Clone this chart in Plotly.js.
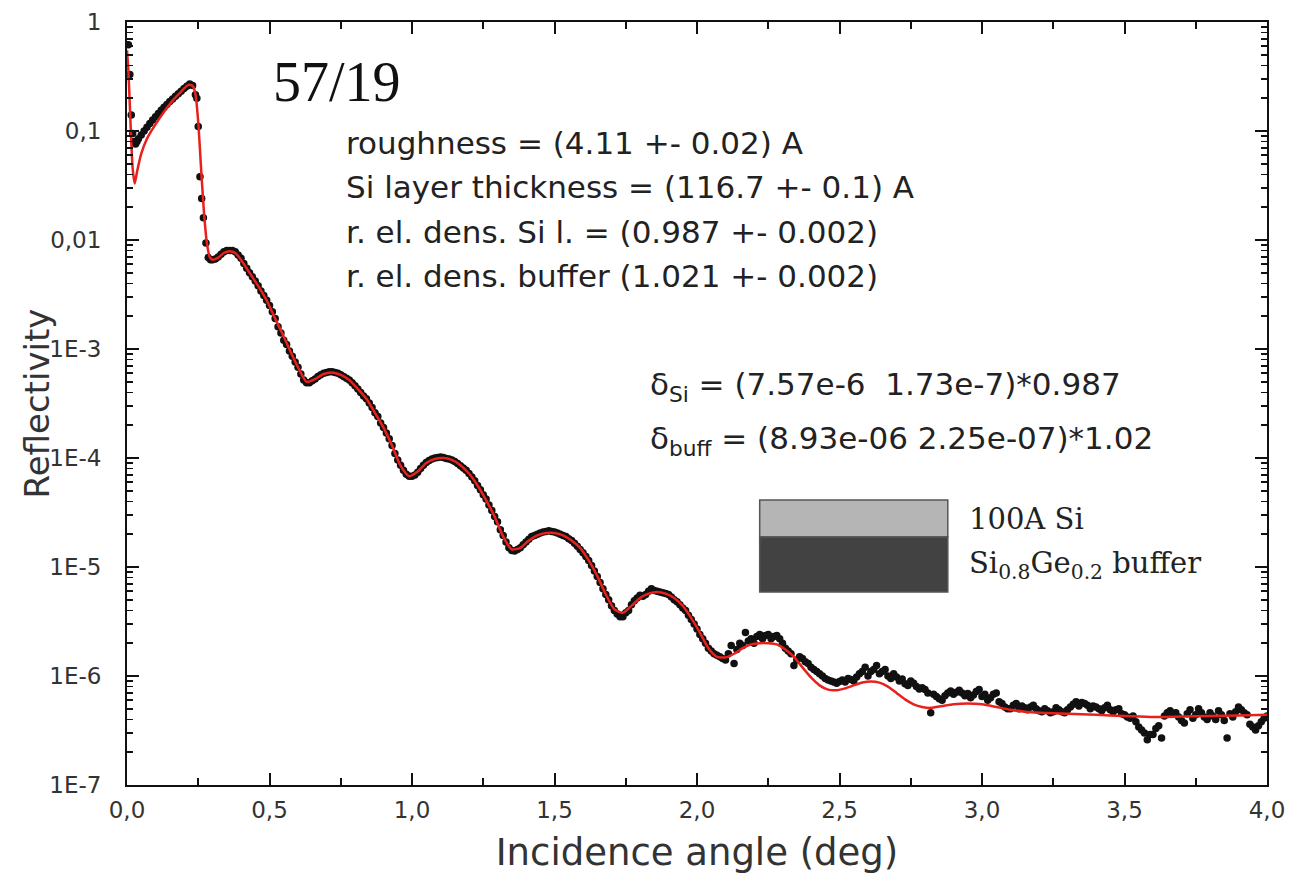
<!DOCTYPE html>
<html>
<head>
<meta charset="utf-8">
<script src="https://cdn.plot.ly/plotly-3.0.1.min.js"></script>
<style>html,body{margin:0;padding:0;background:#fff;}#chart{width:1294px;height:888px;}</style>
</head>
<body>
<div id="chart"></div>
<script>
// Measured data (black dots)
const angleData = [0.005,0.010,0.015,0.020,0.025,0.030,0.035,0.04,0.05,0.06,0.07,0.08,0.09,0.10,0.11,0.12,0.13,0.14,0.15,0.16,0.17,0.18,0.19,0.20,0.21,0.22,0.23,0.24,0.245,0.25,0.256,0.262,0.268,0.277,0.285,0.293,
0.30,0.31,0.32,0.33,0.34,0.35,0.36,0.37,0.38,0.39,0.40,0.41,0.42,0.43,0.44,0.45,0.46,0.47,0.48,0.49,0.50,0.51,0.52,0.53,0.54,0.55,0.56,0.57,0.58,0.59,0.60,0.61,0.62,0.63,0.64,0.65,0.66,0.67,0.68,0.69,0.70,0.71,0.72,0.73,0.74,0.75,0.76,0.77,0.78,0.79,0.80,0.81,0.82,0.83,0.84,0.85,0.86,0.87,0.88,0.89,0.90,0.91,0.92,0.93,0.94,0.95,0.96,0.97,0.98,0.99,
1.00,1.01,1.02,1.03,1.04,1.05,1.06,1.07,1.08,1.09,1.10,1.11,1.12,1.13,1.14,1.15,1.16,1.17,1.18,1.19,1.20,1.21,1.22,1.23,1.24,1.25,1.26,1.27,1.28,1.29,1.30,1.31,1.32,1.33,1.34,1.35,1.36,1.37,1.38,1.39,1.40,1.41,1.42,1.43,1.44,1.45,1.46,1.47,1.48,1.49,1.50,1.51,1.52,1.53,1.54,1.55,1.56,1.57,1.58,1.59,1.60,1.61,1.62,1.63,1.64,1.65,1.66,1.67,1.68,1.69,1.70,1.71,1.72,1.73,1.74,1.75,1.76,1.77,1.78,1.79,1.80,1.81,1.82,1.83,1.84,1.85,1.86,1.87,1.88,1.89,1.90,1.91,1.92,1.93,1.94,1.95,1.96,1.97,1.98,1.99,
2.00,2.01,2.02,2.03,2.04,2.05,2.06,2.07,2.08,2.09,2.10,2.11,2.12,2.13,2.14,2.15,2.16,2.17,2.18,2.19,2.20,2.21,2.22,2.23,2.24,2.25,2.26,2.27,2.28,2.29,2.30,2.31,2.32,2.33,2.34,2.35,2.36,2.37,2.38,2.39,2.40,2.41,2.42,2.43,2.44,2.45,2.46,2.47,2.48,2.49,2.50,2.51,2.52,2.53,2.54,2.55,2.56,2.57,2.58,2.59,2.60,2.61,2.62,2.63,2.64,2.65,2.66,2.67,2.68,2.69,2.70,2.71,2.72,2.73,2.74,2.75,2.76,2.77,2.78,2.79,2.80,2.81,2.82,2.83,2.84,2.85,2.86,2.87,2.88,2.89,2.90,2.91,2.92,2.93,2.94,2.95,2.96,2.97,2.98,2.99,
3.00,3.01,3.02,3.03,3.04,3.05,3.06,3.07,3.08,3.09,3.10,3.11,3.12,3.13,3.14,3.15,3.16,3.17,3.18,3.19,3.20,3.21,3.22,3.23,3.24,3.25,3.26,3.27,3.28,3.29,3.30,3.31,3.32,3.33,3.34,3.35,3.36,3.37,3.38,3.39,3.40,3.41,3.42,3.43,3.44,3.45,3.46,3.47,3.48,3.49,3.50,3.51,3.52,3.53,3.54,3.55,3.56,3.57,3.58,3.59,3.60,3.61,3.62,3.63,3.64,3.65,3.66,3.67,3.68,3.69,3.70,3.71,3.72,3.73,3.74,3.75,3.76,3.77,3.78,3.79,3.80,3.81,3.82,3.83,3.84,3.85,3.86,3.87,3.88,3.89,3.90,3.91,3.92,3.93,3.94,3.95,3.96,3.97,3.98,3.99,4.00];
const reflData = [0.62,0.33,0.14,0.095,0.08,0.076,0.08,0.085,0.092,0.10,0.108,0.117,0.126,0.135,0.145,0.155,0.165,0.175,0.186,0.197,0.208,0.22,0.232,0.245,0.258,0.27,0.262,0.215,0.20,0.11,0.038,0.024,0.016,0.0094,0.0069,0.0066,
0.0066,0.0067,0.0070,0.0074,0.0078,0.0080,0.0080,0.0080,0.0078,0.0073,0.0068,0.0061,0.0055,0.0050,0.0046,0.0042,0.0038,0.0034,0.0031,0.0028,0.0025,0.0022,0.0019,0.0016,0.0014,0.0012,0.0011,9.6e-4,8.6e-4,7.6e-4,6.8e-4,5.9e-4,5.2e-4,4.9e-4,4.9e-4,5.1e-4,5.3e-4,5.6e-4,5.8e-4,6.0e-4,6.1e-4,6.2e-4,6.2e-4,6.1e-4,6.0e-4,5.8e-4,5.6e-4,5.4e-4,5.2e-4,4.9e-4,4.6e-4,4.3e-4,4.0e-4,3.7e-4,3.5e-4,3.2e-4,2.9e-4,2.6e-4,2.4e-4,2.1e-4,1.9e-4,1.7e-4,1.5e-4,1.3e-4,1.1e-4,9.6e-5,8.6e-5,7.7e-5,7.1e-5,6.8e-5,
6.8e-5,7.0e-5,7.4e-5,8.0e-5,8.6e-5,9.1e-5,9.5e-5,9.8e-5,1.0e-4,1.01e-4,1.02e-4,1.01e-4,9.9e-5,9.8e-5,9.6e-5,9.3e-5,8.9e-5,8.5e-5,8.1e-5,7.7e-5,7.2e-5,6.7e-5,6.2e-5,5.6e-5,5.1e-5,4.6e-5,4.2e-5,3.7e-5,3.3e-5,2.9e-5,2.6e-5,2.2e-5,1.95e-5,1.7e-5,1.5e-5,1.42e-5,1.4e-5,1.45e-5,1.5e-5,1.6e-5,1.7e-5,1.8e-5,1.9e-5,1.95e-5,2.0e-5,2.05e-5,2.1e-5,2.12e-5,2.15e-5,2.12e-5,2.1e-5,2.05e-5,2.0e-5,1.95e-5,1.9e-5,1.82e-5,1.75e-5,1.65e-5,1.55e-5,1.45e-5,1.35e-5,1.25e-5,1.15e-5,1.03e-5,9.2e-6,8.2e-6,7.2e-6,6.3e-6,5.6e-6,5.0e-6,4.4e-6,4.0e-6,3.7e-6,3.5e-6,3.5e-6,3.8e-6,4.0e-6,4.5e-6,4.9e-6,5.2e-6,5.5e-6,5.4e-6,5.6e-6,6.0e-6,6.3e-6,6.1e-6,6.0e-6,5.9e-6,5.8e-6,5.7e-6,5.6e-6,5.3e-6,5.0e-6,4.8e-6,4.5e-6,4.2e-6,4.0e-6,3.6e-6,3.3e-6,3.0e-6,
2.7e-6,2.4e-6,2.2e-6,2.0e-6,1.8e-6,1.7e-6,1.6e-6,1.55e-6,1.5e-6,1.45e-6,1.4e-6,1.6e-6,1.9e-6,1.3e-6,1.75e-6,2.0e-6,1.9e-6,2.5e-6,2.1e-6,2.2e-6,2.0e-6,2.3e-6,2.4e-6,2.2e-6,2.35e-6,2.4e-6,2.2e-6,2.3e-6,2.35e-6,2.2e-6,2.0e-6,1.8e-6,1.7e-6,1.6e-6,1.25e-6,1.4e-6,1.5e-6,1.45e-6,1.35e-6,1.3e-6,1.2e-6,1.15e-6,1.1e-6,1.05e-6,1.0e-6,9.5e-7,9.2e-7,9.0e-7,8.8e-7,8.6e-7,8.9e-7,9.2e-7,8.8e-7,9.5e-7,9.3e-7,9.0e-7,9.8e-7,1.05e-6,1.1e-6,1.2e-6,1.0e-6,1.1e-6,1.15e-6,1.25e-6,1.05e-6,1.1e-6,1.15e-6,1.0e-6,9.5e-7,1.05e-6,9.8e-7,9.0e-7,9.4e-7,8.5e-7,8.2e-7,9.0e-7,8.6e-7,8.0e-7,7.6e-7,7.8e-7,7.5e-7,7.0e-7,4.6e-7,6.8e-7,6.5e-7,6.2e-7,6.0e-7,6.6e-7,7.0e-7,7.3e-7,6.8e-7,7.1e-7,7.4e-7,7.0e-7,6.6e-7,6.9e-7,6.3e-7,6.7e-7,7.2e-7,7.5e-7,
6.5e-7,6.8e-7,6.0e-7,6.3e-7,6.8e-7,7.0e-7,5.8e-7,5.6e-7,5.2e-7,5.0e-7,5.0e-7,5.4e-7,5.6e-7,5.0e-7,5.3e-7,5.1e-7,4.9e-7,5.2e-7,5.4e-7,5.0e-7,4.8e-7,4.7e-7,5.0e-7,4.8e-7,4.6e-7,4.7e-7,5.1e-7,4.9e-7,4.7e-7,4.6e-7,4.9e-7,5.2e-7,5.5e-7,5.8e-7,5.3e-7,5.7e-7,5.6e-7,5.4e-7,5.0e-7,5.3e-7,5.2e-7,5.0e-7,4.8e-7,5.1e-7,5.4e-7,4.9e-7,4.7e-7,4.9e-7,5.0e-7,4.5e-7,4.4e-7,4.2e-7,4.1e-7,4.3e-7,3.8e-7,3.4e-7,3.2e-7,3.0e-7,2.6e-7,2.9e-7,2.9e-7,3.3e-7,3.5e-7,2.7e-7,4.3e-7,4.6e-7,4.8e-7,4.5e-7,4.6e-7,4.2e-7,3.9e-7,3.7e-7,4.5e-7,4.9e-7,4.1e-7,4.4e-7,5.0e-7,4.6e-7,4.2e-7,4.0e-7,4.6e-7,4.3e-7,4.0e-7,4.8e-7,4.4e-7,3.9e-7,2.7e-7,4.5e-7,4.2e-7,4.7e-7,5.2e-7,4.9e-7,4.6e-7,4.4e-7,3.6e-7,3.4e-7,3.2e-7,3.5e-7,3.8e-7,4.1e-7,4.3e-7];

// Fitted model (red line)
const angleFit = [0.000,0.005,0.010,0.015,0.020,0.027,0.035,0.05,0.07,0.10,0.13,0.16,0.19,0.215,0.23,0.24,0.25,0.26,0.27,0.28,0.29,0.30,0.32,0.34,0.36,0.38,0.40,0.43,0.46,0.49,0.52,0.55,0.58,0.60,0.63,0.66,0.69,0.72,0.75,0.78,0.81,0.84,0.87,0.90,0.93,0.96,0.99,1.02,1.05,1.08,1.11,1.14,1.17,1.20,1.23,1.26,1.29,1.32,1.35,1.38,1.41,1.44,1.47,1.50,1.53,1.56,1.59,1.62,1.65,1.68,1.71,1.74,1.77,1.80,1.83,1.86,1.89,1.92,1.95,1.98,2.01,2.04,2.07,2.10,2.13,2.16,2.19,2.22,2.25,2.28,2.31,2.34,2.37,2.40,2.43,2.46,2.49,2.52,2.55,2.58,2.61,2.64,2.67,2.70,2.73,2.76,2.79,2.82,2.86,2.90,2.95,3.00,3.05,3.10,3.15,3.20,3.30,3.40,3.50,3.60,3.70,3.80,3.90,4.00];
const reflFit = [0.55,0.35,0.17,0.08,0.045,0.033,0.042,0.062,0.085,0.115,0.15,0.19,0.23,0.265,0.26,0.22,0.12,0.045,0.018,0.0095,0.007,0.0066,0.0069,0.0076,0.0079,0.0076,0.0066,0.005,0.0038,0.0028,0.0019,0.0013,8.7e-4,6.8e-4,5.0e-4,5.3e-4,5.9e-4,6.1e-4,5.8e-4,5.2e-4,4.3e-4,3.5e-4,2.6e-4,1.9e-4,1.3e-4,8.5e-5,6.8e-5,7.5e-5,9.0e-5,9.8e-5,1.0e-4,9.6e-5,8.6e-5,7.2e-5,5.6e-5,4.1e-5,2.9e-5,1.9e-5,1.45e-5,1.5e-5,1.75e-5,1.95e-5,2.05e-5,2.05e-5,1.95e-5,1.75e-5,1.5e-5,1.15e-5,8.3e-6,5.6e-6,4.1e-6,3.8e-6,4.4e-6,5.2e-6,5.7e-6,5.9e-6,5.7e-6,5.2e-6,4.4e-6,3.4e-6,2.5e-6,1.8e-6,1.5e-6,1.48e-6,1.6e-6,1.8e-6,1.95e-6,2.0e-6,2.0e-6,1.95e-6,1.75e-6,1.5e-6,1.2e-6,9.7e-7,8.2e-7,7.5e-7,7.4e-7,7.7e-7,8.2e-7,8.7e-7,8.9e-7,8.7e-7,8.0e-7,7.0e-7,6.1e-7,5.5e-7,5.2e-7,5.1e-7,5.3e-7,5.5e-7,5.6e-7,5.5e-7,5.2e-7,4.9e-7,4.7e-7,4.6e-7,4.5e-7,4.4e-7,4.3e-7,4.2e-7,4.25e-7,4.3e-7,4.35e-7,4.4e-7];

// Tick labels
const xTickVals = [0,0.5,1,1.5,2,2.5,3,3.5,4];
const xTickText = ["0,0","0,5","1,0","1,5","2,0","2,5","3,0","3,5","4,0"];
const yTickVals = [1,0.1,0.01,1e-3,1e-4,1e-5,1e-6,1e-7];
const yTickText = ["1","0,1","0,01","1E-3","1E-4","1E-5","1E-6","1E-7"];

const xMinor = [];
for (let i = 0; i < 8; i++) xMinor.push(0.25 + 0.5 * i);
const yMinor = [];
for (let e = -7; e < 0; e++) for (let m = 2; m <= 9; m++) yMinor.push(m * Math.pow(10, e));

const traces = [
  {x: angleData, y: reflData, type: 'scatter', mode: 'markers',
   marker: {color: '#111', size: 7.5}, name: 'data'},
  {x: angleFit, y: reflFit, type: 'scatter', mode: 'lines',
   line: {color: '#e8211c', width: 2.5, shape: 'spline', smoothing: 0.6}, name: 'fit'}
];

const SANS = 'DejaVu Sans, Arial, sans-serif';
const SERIF = 'DejaVu Serif, Times New Roman, serif';
const tickFont = {family: SANS, size: 23, color: '#333'};
const txtFont = {family: SANS, size: 31, color: '#222'};
const serif = {family: SERIF, size: 29, color: '#222'};

const layout = {
  width: 1294, height: 888,
  margin: {l: 127, r: 27, t: 22, b: 103},
  paper_bgcolor: '#fff', plot_bgcolor: '#fff',
  showlegend: false,
  xaxis: {
    range: [0, 4], tickmode: 'array', tickvals: xTickVals, ticktext: xTickText,
    ticks: 'inside', ticklen: 12, tickwidth: 2, tickcolor: '#111',
    showline: true, linecolor: '#111', linewidth: 2, mirror: 'ticks',
    showgrid: false, zeroline: false, tickfont: tickFont, ticklabelstandoff: 3,
    minor: {tickvals: xMinor, ticks: 'inside', ticklen: 7, tickwidth: 2, tickcolor: '#111', showgrid: false},
    title: {text: 'Incidence angle (deg)', font: {family: SANS, size: 37, color: '#333'}, standoff: 18}
  },
  yaxis: {
    type: 'log', range: [-7, 0], tickmode: 'array', tickvals: yTickVals, ticktext: yTickText,
    ticks: 'inside', ticklen: 12, tickwidth: 2, tickcolor: '#111',
    showline: true, linecolor: '#111', linewidth: 2, mirror: 'ticks',
    showgrid: false, zeroline: false, tickfont: tickFont, ticklabelstandoff: 19,
    minor: {tickvals: yMinor, ticks: 'inside', ticklen: 6, tickwidth: 1.5, tickcolor: '#111', showgrid: false}
  },
  shapes: [
    {type: 'rect', xref: 'paper', yref: 'paper', x0: 0.555, x1: 0.720, y0: 0.325, y1: 0.3735,
     fillcolor: '#b5b5b5', line: {color: '#555', width: 1.5}},
    {type: 'rect', xref: 'paper', yref: 'paper', x0: 0.555, x1: 0.720, y0: 0.253, y1: 0.325,
     fillcolor: '#424242', line: {color: '#555', width: 1.5}}
  ],
  annotations: [
    {xref: 'paper', yref: 'paper', x: -0.079, y: 0.50, xanchor: 'center', yanchor: 'middle', showarrow: false,
     textangle: -90, text: 'Reflectivity', font: {family: SANS, size: 34, color: '#333'}},
    {xref: 'paper', yref: 'paper', x: 0.126, y: 0.922, xanchor: 'left', yanchor: 'middle', showarrow: false,
     text: '57/19', font: {family: 'Liberation Serif, Times New Roman, serif', size: 56, color: '#111'}},
    {xref: 'paper', yref: 'paper', x: 0.190, y: 0.841, xanchor: 'left', yanchor: 'middle', showarrow: false,
     text: 'roughness = (4.11 +- 0.02) A', font: txtFont},
    {xref: 'paper', yref: 'paper', x: 0.190, y: 0.784, xanchor: 'left', yanchor: 'middle', showarrow: false,
     text: 'Si layer thickness = (116.7 +- 0.1) A', font: txtFont},
    {xref: 'paper', yref: 'paper', x: 0.190, y: 0.725, xanchor: 'left', yanchor: 'middle', showarrow: false,
     text: 'r. el. dens. Si l. = (0.987 +- 0.002)', font: txtFont},
    {xref: 'paper', yref: 'paper', x: 0.190, y: 0.667, xanchor: 'left', yanchor: 'middle', showarrow: false,
     text: 'r. el. dens. buffer (1.021 +- 0.002)', font: txtFont},
    {xref: 'paper', yref: 'paper', x: 0.457, y: 0.522, xanchor: 'left', yanchor: 'middle', showarrow: false,
     text: 'δ<sub>Si</sub> = (7.57e-6  1.73e-7)*0.987', font: txtFont},
    {xref: 'paper', yref: 'paper', x: 0.457, y: 0.452, xanchor: 'left', yanchor: 'middle', showarrow: false,
     text: 'δ<sub>buff</sub> = (8.93e-06 2.25e-07)*1.02', font: txtFont},
    {xref: 'paper', yref: 'paper', x: 0.737, y: 0.348, xanchor: 'left', yanchor: 'middle', showarrow: false,
     text: '100A Si', font: serif},
    {xref: 'paper', yref: 'paper', x: 0.737, y: 0.288, xanchor: 'left', yanchor: 'middle', showarrow: false,
     text: 'Si<sub>0.8</sub>Ge<sub>0.2</sub> buffer', font: serif}
  ]
};

Plotly.newPlot('chart', traces, layout, {displayModeBar: false, staticPlot: true});
</script>
</body>
</html>
